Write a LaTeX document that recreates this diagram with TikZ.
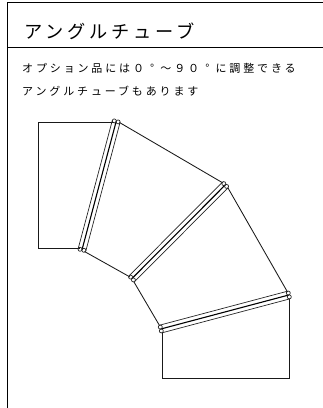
\documentclass[tikz,border=0pt]{standalone}
\usepackage{fontspec}
\usetikzlibrary{calc}
\newfontfamily\jptitle[LetterSpace=21]{Noto Sans CJK JP}
\newfontfamily\jpbody[LetterSpace=26]{Noto Sans CJK JP}
\newcommand{\degbox}{\makebox[16.4pt][c]{°}}
\tikzset{
  frameline/.style={line width=1pt,black},
  outline/.style={line width=0.85pt,black!90},
  rimline/.style={line width=0.7pt,black!85},
  coreline/.style={line width=1.1pt,black},
  titletext/.style={anchor=west,inner sep=0pt,font=\jptitle\fontsize{18.2}{20}\selectfont},
  bodytext/.style={anchor=west,inner sep=0pt,font=\jpbody\fontsize{11}{13}\selectfont},
}
\newcommand{\tubejoint}[3]{%
  \coordinate (#1a) at ($(#2)!4pt!90:(#3)$);
  \coordinate (#1b) at ($(#2)!4pt!-90:(#3)$);
  \coordinate (#1c) at ($(#3)!4pt!-90:(#2)$);
  \coordinate (#1d) at ($(#3)!4pt!90:(#2)$);
  \coordinate (#1e) at ($(#2)!2pt!90:(#3)$);
  \coordinate (#1f) at ($(#2)!2pt!-90:(#3)$);
  \coordinate (#1g) at ($(#3)!2pt!-90:(#2)$);
  \coordinate (#1h) at ($(#3)!2pt!90:(#2)$);
  \draw[rimline] (#1a) -- (#1c);
  \draw[rimline] (#1b) -- (#1d);
  \draw[coreline] (#2) -- (#3);
  \foreach \p in {#1e,#1f,#1g,#1h}{\draw[rimline] (\p) circle (2pt);}
}
\begin{document}
\begin{tikzpicture}[x=1pt,y=-1pt]
\useasboundingbox (0,0) rectangle (323,408);
\fill[white] (0,0) rectangle (323,408);
% frame
\coordinate (tl) at (7.5,2.5);
\coordinate (tr) at (323,2.5);
\coordinate (bl) at (7.5,408);
\coordinate (ml) at (7.5,47);
\coordinate (mr) at (323,47);
\draw[frameline] (tr) -- (tl) -- (bl);
\draw[frameline] (ml) -- (mr);
% text
\node[titletext] (title) at (24,31) {アングルチューブ};
\node[bodytext] (line1) at (22,68) {オプション品には０\degbox～９０\degbox に調整できる};
\node[bodytext] (line2) at (22,91) {アングルチューブもあります};
% joint centres
\coordinate (j1t) at (116.2,121.4);
\coordinate (j1b) at (82,249.8);
\coordinate (j2t) at (225.2,185);
\coordinate (j2b) at (132,278.5);
\coordinate (j3t) at (288.8,295);
\coordinate (j3b) at (160.8,329);
% bodies
\draw[outline] (113.5,122) -- (38.5,122) -- (38.5,248) -- (80,248);
\draw[outline] (119.5,122.5) -- (223,183);
\draw[outline] (84.5,251.5) -- (130,277);
\draw[outline] (228,188) -- (287.5,292);
\draw[outline] (134,282) -- (159.5,325.5);
\draw[outline] (162.5,332.5) -- (162.5,378.5) -- (289.5,378.5) -- (289.5,298.5);
% joints
\tubejoint{A}{j1t}{j1b}
\tubejoint{B}{j2t}{j2b}
\tubejoint{C}{j3t}{j3b}
\end{tikzpicture}
\end{document}
